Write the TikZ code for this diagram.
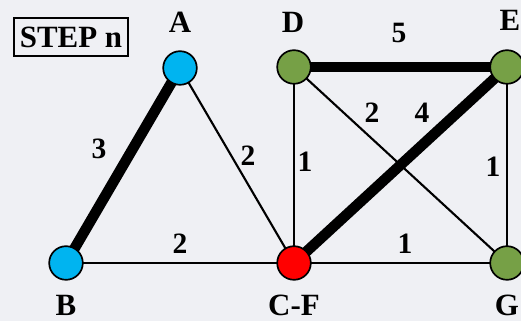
\documentclass[tikz,border=0pt]{standalone}
\usepackage{fontspec}
\setmainfont{Liberation Serif}
\usepackage{xcolor}
\usetikzlibrary{positioning}
\definecolor{bgpaper}{HTML}{EFF0F4}
\definecolor{nodeblue}{HTML}{00B4F0}
\definecolor{nodegreen}{HTML}{76A046}
\definecolor{nodered}{HTML}{FF0000}
\pgfdeclarelayer{edgelayer}
\pgfsetlayers{edgelayer,main}

\tikzset{
    vertex/.style={circle, draw=black, line width=1.2pt, minimum size=0.84cm, inner sep=0pt},
    vname/.style={font=\fontsize{22}{22}\selectfont\bfseries},
    wlabel/.style={font=\fontsize{21}{21}\selectfont\bfseries, inner sep=0pt},
    thin edge/.style={draw=black, line width=1.5pt},
    thick edge/.style={draw=black, line width=7.5pt},
}

\begin{document}
\begin{tikzpicture}[x=0.025cm, y=-0.025cm]
    \useasboundingbox (0,0) rectangle (521,321);

    % title box
    \node[draw=black, line width=1pt, inner sep=2pt, minimum width=2.85cm, minimum height=0.95cm,
          font=\fontsize{22}{22}\selectfont\bfseries] (title) at (71, 37) {STEP n};

    % vertices
    \node[vertex, fill=nodeblue] (A) at (180, 68) {};
    \node[vertex, fill=nodeblue] (B) at (66, 263) {};
    \node[vertex, fill=nodered] (CF) at (294, 263) {};
    \node[vertex, fill=nodegreen] (D) at (294, 67) {};
    \node[vertex, fill=nodegreen] (E) at (507, 67) {};
    \node[vertex, fill=nodegreen] (G) at (507, 263) {};

    % edges, behind the vertices
    \begin{pgfonlayer}{edgelayer}
        \fill[bgpaper] (0,0) rectangle (521,321);
        \draw[thick edge] (A.center) -- (B.center);
        \draw[thin edge] (A.center) -- (CF.center);
        \draw[thin edge] (B.center) -- (CF.center);
        \draw[thin edge] (D.center) -- (CF.center);
        \draw[thin edge] (D.center) -- (G.center);
        \draw[thin edge] (E.center) -- (G.center);
        \draw[thin edge] (CF.center) -- (G.center);
        \draw[thick edge] (D.center) -- (E.center);
        \draw[thick edge] (E.center) -- (CF.center);
    \end{pgfonlayer}

    % vertex names
    \node[vname] (nA) at (180, 22) {A};
    \node[vname] (nB) at (66, 305) {B};
    \node[vname] (nCF) at (294, 305) {C-F};
    \node[vname] (nD) at (293, 22) {D};
    \node[vname] (nE) at (510, 20) {E};
    \node[vname] (nG) at (507, 305) {G};

    % weights
    \node[wlabel] (wAB) at (99, 149) {3};
    \node[wlabel] (wACF) at (248, 156) {2};
    \node[wlabel] (wBCF) at (180, 244) {2};
    \node[wlabel] (wDCF) at (305, 162) {1};
    \node[wlabel] (wDG) at (372, 113) {2};
    \node[wlabel] (wECF) at (422, 113) {4};
    \node[wlabel] (wDE) at (399, 33) {5};
    \node[wlabel] (wEG) at (493, 167) {1};
    \node[wlabel] (wCFG) at (405, 244) {1};
\end{tikzpicture}
\end{document}
